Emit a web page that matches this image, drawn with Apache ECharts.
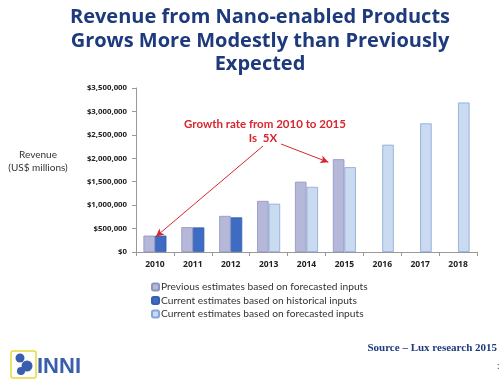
<!DOCTYPE html>
<html><head><meta charset="utf-8">
<script src="https://cdn.jsdelivr.net/npm/echarts@6/dist/echarts.min.js"></script>
<style>html,body{margin:0;padding:0;background:#fff}#c{width:500px;height:381px}</style>
</head><body><div id="c"></div>
<script>
const years = ['2010','2011','2012','2013','2014','2015','2016','2017','2018'];
const previousForecast = [350000, 530000, 770000, 1090000, 1500000, 1980000, null, null, null];
const currentHistorical = [350000, 525000, 740000, null, null, null, null, null, null];
const currentForecast = [null, null, null, 1030000, 1390000, 1810000, 2290000, 2745000, 3190000];
const seriesNames = ['Previous estimates based on forecasted inputs','Current estimates based on historical inputs','Current estimates based on forecasted inputs'];
const yTicks = [0, 500000, 1000000, 1500000, 2000000, 2500000, 3000000, 3500000];

const chart = echarts.init(document.getElementById('c'), null, {renderer:'canvas'});
const fmt = v => '$' + v.toLocaleString('en-US');
const navy = '#1d3a7c';
const red = '#d7262e';
const option = {
  animation:false,
  backgroundColor:'#fff',
  title:{
    text:'Revenue from Nano-enabled Products\nGrows More Modestly than Previously\nExpected',
    left:255, top:1, textAlign:'center',
    textStyle:{fontFamily:'Open Sans', fontWeight:'bold', fontSize:20, lineHeight:23.5, color:navy}
  },
  grid:{left:136, right:23, top:88, bottom:129},
  legend:{
    orient:'vertical', left:146, top:277, itemWidth:7, itemHeight:7, itemGap:3.5,
    data:seriesNames,
    textStyle:{fontFamily:'Lato', fontSize:10.2, color:'#333', padding:[0,0,0,-3]}
  },
  xAxis:{
    type:'category', data:years,
    axisLine:{lineStyle:{color:'#999'}},
    axisTick:{show:true, alignWithLabel:false, length:4, lineStyle:{color:'#999'}},
    axisLabel:{fontFamily:'Open Sans', fontWeight:'bold', fontSize:8.5, color:'#222', margin:8}
  },
  yAxis:{
    type:'value', min:0, max:3500000, interval:500000,
    axisLine:{show:true, lineStyle:{color:'#999'}},
    axisTick:{show:true, length:4, lineStyle:{color:'#999'}},
    splitLine:{show:false},
    axisLabel:{fontFamily:'Open Sans', fontWeight:'bold', fontSize:7.8, color:'#222', margin:9, formatter:fmt}
  },
  series:[
    {name:seriesNames[0], type:'bar', data:previousForecast, barWidth:11.5, barGap:'0%',
     itemStyle:{color:'#b5b8d8', borderColor:'#8f93bd', borderWidth:0.8}},
    {name:seriesNames[1], type:'bar', stack:'cur', data:currentHistorical, barWidth:11.5,
     itemStyle:{color:'#3e6cc2', borderColor:'#3560b0', borderWidth:0.8}},
    {name:seriesNames[2], type:'bar', stack:'cur', data:currentForecast, barWidth:11.5,
     itemStyle:{color:'#c9daf1', borderColor:'#86a6d6', borderWidth:0.8}}
  ],
  graphic:[
    {type:'text', x:38, y:155, style:{text:'Revenue', fill:'#333', font:'10px Lato', textAlign:'center', textVerticalAlign:'middle'}},
    {type:'text', x:38, y:168, style:{text:'(US$ millions)', fill:'#333', font:'10px Lato', textAlign:'center', textVerticalAlign:'middle'}},
    {type:'text', x:265, y:124, style:{text:'Growth rate from 2010 to 2015', fill:red, font:'bold 11.5px Lato', textAlign:'center', textVerticalAlign:'middle'}},
    {type:'text', x:263, y:138, style:{text:'Is  5X', fill:red, font:'bold 11.5px Lato', textAlign:'center', textVerticalAlign:'middle'}},
    {type:'text', x:497, y:348, style:{text:'Source \u2013 Lux research 2015', fill:navy, font:'bold 11px "Liberation Serif"', textAlign:'right', textVerticalAlign:'middle'}},
    {type:'text', x:497, y:366, style:{text:':', fill:'#555', font:'10px Lato', textVerticalAlign:'middle'}},
    {type:'rect', shape:{x:11, y:351, width:25, height:27, r:2}, style:{fill:'#fff', stroke:'#e6dc3a', lineWidth:1.5}},
    {type:'circle', shape:{cx:20, cy:358, r:4.5}, style:{fill:'#3a5eae'}},
    {type:'circle', shape:{cx:27, cy:366, r:5.5}, style:{fill:'#3a5eae'}},
    {type:'circle', shape:{cx:21, cy:371, r:4}, style:{fill:'#3a5eae'}},
    {type:'text', x:37, y:367, style:{text:'INNI', fill:'#3a5eae', font:'bold 22px "Liberation Sans Narrow", "Liberation Sans", sans-serif', textVerticalAlign:'middle'}}
  ]
};
chart.setOption(option);
// annotation arrows anchored to the data
const p2010 = chart.convertToPixel({seriesIndex:0}, [0, previousForecast[0]]);
const p2015 = chart.convertToPixel({seriesIndex:0}, [5, previousForecast[5]]);
chart.setOption({series:[{markLine:{
  silent:true, symbol:['none','arrow'], symbolSize:[6,8],
  lineStyle:{color:red, width:1, type:'solid'}, label:{show:false},
  data:[
    [{x:263, y:146}, {x:p2010[0]+1, y:p2010[1]+1}],
    [{x:281, y:144}, {x:p2015[0]-16, y:p2015[1]+3}]
  ]
}}]});
</script></body></html>
